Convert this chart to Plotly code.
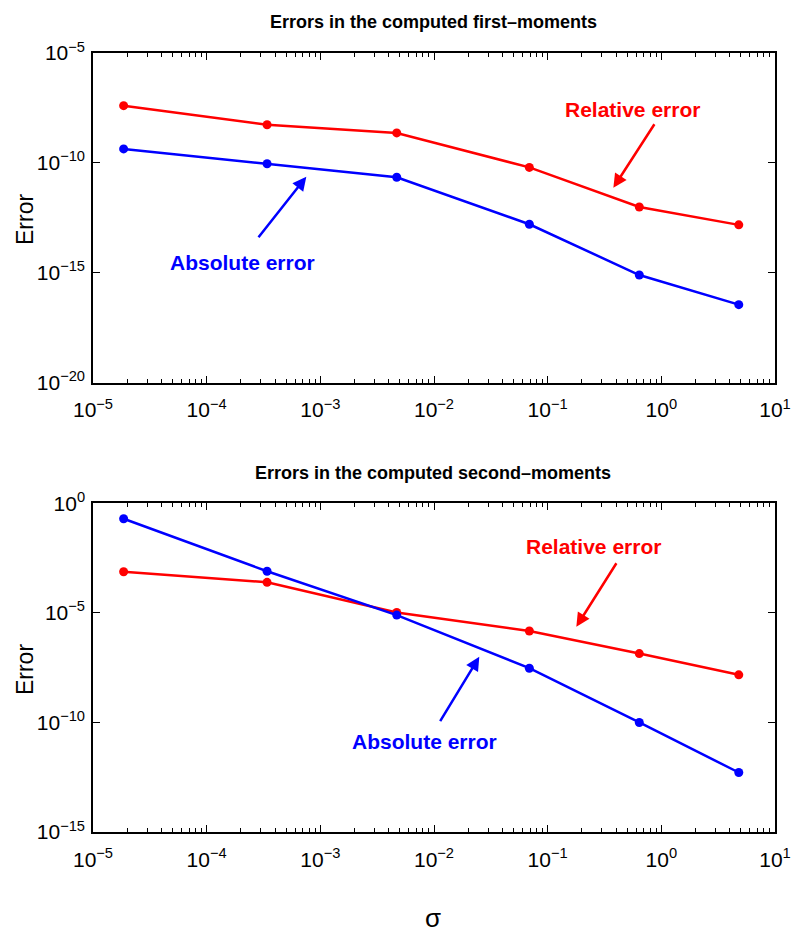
import plotly.graph_objects as go

# ---------------- data ----------------
sigma = [1.86e-5, 3.4e-4, 4.7e-3, 6.9e-2, 0.64, 4.8]

first_rel = [4.0e-8, 5.4e-9, 2.3e-9, 6.2e-11, 9.8e-13, 1.5e-13]
first_abs = [4.3e-10, 9.1e-11, 2.2e-11, 1.6e-13, 7.8e-16, 3.5e-17]

second_abs = [2.0e-1, 8.0e-4, 8.0e-6, 3.0e-8, 1.0e-10, 5.2e-13]
second_rel = [7.6e-4, 2.5e-4, 1.05e-5, 1.5e-6, 1.4e-7, 1.5e-8]

x_tickvals = [1e-5, 1e-4, 1e-3, 1e-2, 1e-1, 1e0, 1e1]
x_ticktext = ["10<sup>−5</sup>", "10<sup>−4</sup>", "10<sup>−3</sup>", "10<sup>−2</sup>",
              "10<sup>−1</sup>", "10<sup>0</sup>", "10<sup>1</sup>"]
y1_tickvals = [1e-20, 1e-15, 1e-10, 1e-5]
y1_ticktext = ["10<sup>−20</sup>", "10<sup>−15</sup>", "10<sup>−10</sup>", "10<sup>−5</sup>"]
y2_tickvals = [1e-15, 1e-10, 1e-5, 1e0]
y2_ticktext = ["10<sup>−15</sup>", "10<sup>−10</sup>", "10<sup>−5</sup>", "10<sup>0</sup>"]

title1 = "Errors in the computed first–moments"
title2 = "Errors in the computed second–moments"

RED = "#ff0000"
BLUE = "#0000ff"
SANS = "Liberation Sans, Arial, Helvetica, sans-serif"

fig = go.Figure()

def add_line(x, y, color, xa, ya):
    fig.add_trace(go.Scatter(x=x, y=y, mode="lines+markers", xaxis=xa, yaxis=ya,
                             line=dict(color=color, width=2.5),
                             marker=dict(color=color, size=9),
                             showlegend=False))

add_line(sigma, first_rel, RED, "x", "y")
add_line(sigma, first_abs, BLUE, "x", "y")
add_line(sigma, second_rel, RED, "x2", "y2")
add_line(sigma, second_abs, BLUE, "x2", "y2")

tickfont = dict(family=SANS, size=21, color="black")

def xaxis(anchor):
    return dict(type="log", range=[-5, 1], tickvals=x_tickvals, ticktext=x_ticktext,
                ticks="inside", ticklen=7, tickwidth=1, tickcolor="black",
                minor=dict(ticks="inside", ticklen=4, tickwidth=1, tickcolor="black",
                           dtick="D1", showgrid=False),
                showline=True, linecolor="black", linewidth=1.5, mirror="allticks",
                showgrid=False, zeroline=False, tickfont=tickfont, anchor=anchor,
                automargin=False, ticklabelstandoff=8, domain=[0, 1])

def yaxis(anchor, dom, rng, tv, tt):
    return dict(type="log", range=rng, tickvals=tv, ticktext=tt,
                ticks="inside", ticklen=7, tickwidth=1, tickcolor="black",
                showline=True, linecolor="black", linewidth=1.5, mirror="allticks",
                showgrid=False, zeroline=False, tickfont=tickfont, anchor=anchor,
                automargin=False, domain=dom, ticklabelstandoff=2)

TOP_DOM = [0.577, 1.0]
BOT_DOM = [0.0, 0.4218]

# the page body adds an 8px offset, so the figure is drawn 8px smaller
fig.update_layout(
    width=792, height=928,
    margin=dict(l=85, r=25, t=45, b=104),
    paper_bgcolor="white", plot_bgcolor="white",
    xaxis=xaxis("y"),
    yaxis=yaxis("x", TOP_DOM, [-20, -5], y1_tickvals, y1_ticktext),
    xaxis2=xaxis("y2"),
    yaxis2=yaxis("x2", BOT_DOM, [-15, 0], y2_tickvals, y2_ticktext),
)

ann_font_r = dict(family=SANS, size=21, color=RED, weight="bold")
ann_font_b = dict(family=SANS, size=21, color=BLUE, weight="bold")
title_font = dict(family=SANS, size=18, color="black", weight="bold")
label_font = dict(family=SANS, size=23, color="black")

C = dict(xref="paper", yref="paper", showarrow=False, xanchor="center", yanchor="middle")

annotations = [
    # titles
    dict(x=0.499, y=1.0402, text=title1, font=title_font, **C),
    dict(x=0.499, y=0.4612, text=title2, font=title_font, **C),
    # y labels
    dict(x=-0.1007, y=0.786, text="Error", textangle=-90, font=label_font, **C),
    dict(x=-0.1007, y=0.2083, text="Error", textangle=-90, font=label_font, **C),
    # sigma label
    dict(x=0.499, y=-0.1322, xref="paper", yref="paper", text="σ", showarrow=False,
         xanchor="center", yanchor="bottom", font=dict(family=SANS, size=26, color="black")),
    # text labels
    dict(x=0.7907, y=0.9272, text="Relative error", font=ann_font_r, **C),
    dict(x=0.2196, y=0.7308, text="Absolute error", font=ann_font_b, **C),
    dict(x=0.7336, y=0.3663, text="Relative error", font=ann_font_r, **C),
    dict(x=0.4858, y=0.1159, text="Absolute error", font=ann_font_b, **C),
]
arrows = [
    (0.763, 0.827, 42, -65, RED),
    (0.3128, 0.8412, -49, 62, BLUE),
    (0.7087, 0.2635, 41, -65, RED),
    (0.5664, 0.225, -40, 66, BLUE),
]
for (hx, hy, ax, ay, c) in arrows:
    annotations.append(dict(x=hx, y=hy, xref="paper", yref="paper", text="",
                            showarrow=True, ax=ax, ay=ay, arrowcolor=c,
                            arrowwidth=2.5, arrowhead=2, arrowsize=1.1,
                            standoff=0, startstandoff=0))
fig.update_layout(annotations=annotations)

fig.write_html("out.html")
